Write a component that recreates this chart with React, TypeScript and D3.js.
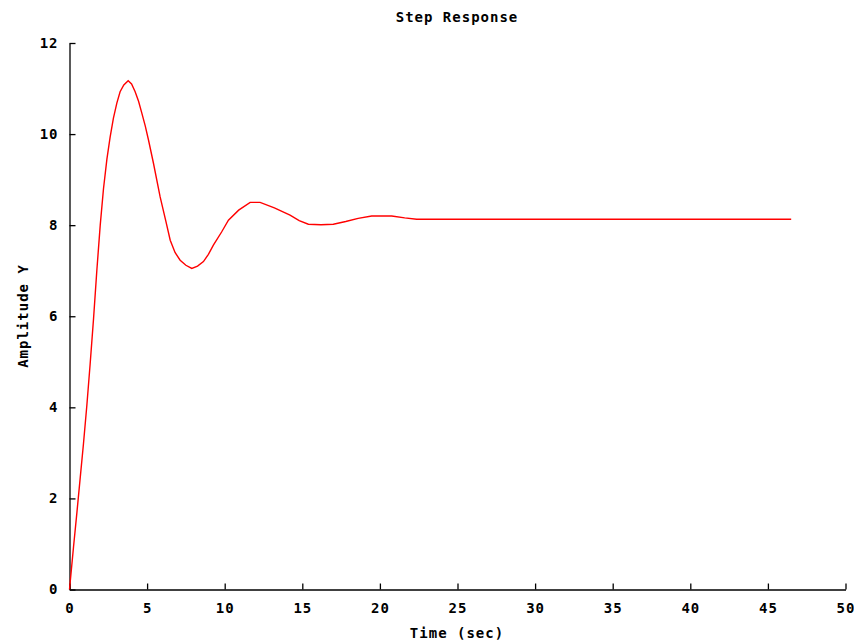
import React, { useEffect, useRef } from 'react';
import * as d3 from 'd3';

// step response samples
const time = [0, 0.26, 0.48, 0.69, 0.9, 1.12, 1.33, 1.55, 1.76, 1.98, 2.19, 2.41, 2.62, 2.83, 3.05, 3.26, 3.5, 3.78, 4.0, 4.23, 4.45, 4.66, 4.88, 5.09, 5.41, 5.84, 6.2, 6.49, 6.8, 7.13, 7.5, 7.88, 8.25, 8.63, 8.95, 9.27, 9.8, 10.24, 10.9, 11.64, 12.28, 13.2, 14.21, 14.8, 15.39, 16.2, 17.0, 17.8, 18.6, 19.47, 20.1, 20.76, 21.6, 22.37, 30, 40, 46.5];
const amplitude = [0, 0.94, 1.7, 2.45, 3.2, 4.05, 4.95, 5.95, 7.0, 8.0, 8.8, 9.45, 9.94, 10.35, 10.68, 10.93, 11.08, 11.17, 11.1, 10.93, 10.72, 10.46, 10.18, 9.87, 9.36, 8.62, 8.1, 7.67, 7.4, 7.23, 7.12, 7.05, 7.1, 7.2, 7.36, 7.56, 7.85, 8.11, 8.33, 8.5, 8.5, 8.38, 8.22, 8.1, 8.02, 8.01, 8.02, 8.08, 8.15, 8.2, 8.2, 8.2, 8.16, 8.13, 8.13, 8.13, 8.13];
const xTicks = [0, 5, 10, 15, 20, 25, 30, 35, 40, 45, 50];
const yTicks = [0, 2, 4, 6, 8, 10, 12];

const W = 854, H = 642;
const FONT = '"DejaVu Sans Mono", monospace';

export default function App() {
    const ref = useRef<SVGSVGElement>(null);

    useEffect(() => {
        const svg = d3.select(ref.current);
        svg.selectAll('*').remove();

        const x = d3.scaleLinear().domain([0, 50]).range([69.5, 845.5]);
        const y = d3.scaleLinear().domain([0, 12]).range([589.5, 43]);

        const xAxis = d3.axisBottom(x).tickValues(xTicks).tickSizeInner(-6).tickSizeOuter(0).tickPadding(14);
        const yAxis = d3.axisLeft(y).tickValues(yTicks).tickSizeInner(-6).tickSizeOuter(0).tickPadding(11);

        const gx = svg.append('g').attr('transform', `translate(0,${y(0)})`).call(xAxis);
        const gy = svg.append('g').attr('transform', `translate(${x(0)},0)`).call(yAxis);

        [gx, gy].forEach(g => {
            g.selectAll('path, line').attr('stroke', '#000').attr('stroke-width', 1.3);
            g.selectAll('text')
                .attr('fill', '#000')
                .style('font-family', FONT)
                .style('font-size', '14px')
                .style('font-weight', 'bold')
                .style('letter-spacing', '1px');
        });

        const line = d3.line<number>()
            .x((d, i) => x(time[i]))
            .y(d => y(d));

        svg.append('path')
            .datum(amplitude)
            .attr('d', line)
            .attr('fill', 'none')
            .attr('stroke', '#ff0000')
            .attr('stroke-width', 1.4);

        const label = (s: string) => svg.append('text')
            .text(s)
            .attr('text-anchor', 'middle')
            .attr('fill', '#000')
            .style('font-family', FONT)
            .style('font-size', '14px')
            .style('font-weight', 'bold')
            .style('letter-spacing', '1px');

        label('Step Response').attr('x', 457).attr('y', 22);
        label('Time (sec)').attr('x', 457).attr('y', 638);
        label('Amplitude Y').attr('transform', 'translate(28,316) rotate(-90)');
    }, []);

    return (
        <svg ref={ref} width={W} height={H}
             style={{ position: 'absolute', left: 0, top: 0, display: 'block', background: '#fff' }} />
    );
}
